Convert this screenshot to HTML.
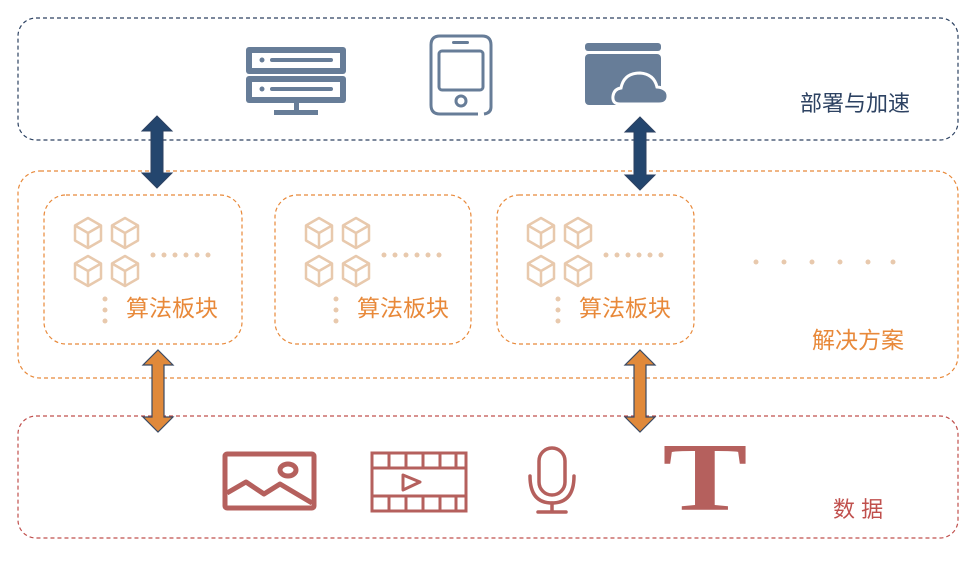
<!DOCTYPE html>
<html><head><meta charset="utf-8"><style>
html,body{margin:0;padding:0;background:#fff;}
svg text{font-family:"Liberation Sans","Noto Sans CJK SC",sans-serif;}
</style></head><body>
<svg width="975" height="563" viewBox="0 0 975 563" xmlns="http://www.w3.org/2000/svg">
<defs>
<g id="cube" fill="none" stroke="#e8c9ad" stroke-width="2.5" stroke-linejoin="round">
<path d="M0,-15 L13,-7.5 L13,7.5 L0,15 L-13,7.5 L-13,-7.5 Z"/>
<path d="M-13,-7.5 L0,0 L13,-7.5 M0,0 L0,15"/>
</g>
<g id="algo">
<use href="#cube" x="44" y="38"/><use href="#cube" x="81" y="38"/>
<use href="#cube" x="44" y="76"/><use href="#cube" x="81" y="76"/>
<g fill="#e8c9ad"><circle cx="109" cy="60" r="2.5"/><circle cx="120" cy="60" r="2.5"/><circle cx="131" cy="60" r="2.5"/><circle cx="142" cy="60" r="2.5"/><circle cx="153" cy="60" r="2.5"/><circle cx="164" cy="60" r="2.5"/>
<circle cx="61" cy="104" r="2.5"/><circle cx="61" cy="115" r="2.5"/><circle cx="61" cy="126" r="2.5"/></g>
<text x="82" y="121" font-size="23" fill="#e8893a">算法板块</text>
</g>
</defs>
<rect x="18" y="18" width="940" height="122" rx="18" fill="none" stroke="#2d4262" stroke-width="1.2" stroke-dasharray="4,3"/>
<rect x="18" y="171" width="940" height="207" rx="22" fill="none" stroke="#e8893a" stroke-width="1.2" stroke-dasharray="4,3"/>
<rect x="18" y="416" width="940" height="122" rx="18" fill="none" stroke="#c0504d" stroke-width="1.2" stroke-dasharray="4,3"/>
<g fill="none" stroke="#e8893a" stroke-width="1.2" stroke-dasharray="4,3">
<rect x="44" y="195" width="198" height="149" rx="22"/>
<rect x="275" y="195" width="196" height="149" rx="22"/>
<rect x="497" y="195" width="197" height="149" rx="22"/>
</g>
<use href="#algo" x="44" y="195"/><use href="#algo" x="275" y="195"/><use href="#algo" x="497" y="195"/>
<g fill="#e8c9ad"><circle cx="756" cy="262" r="2.5"/><circle cx="784" cy="262" r="2.5"/><circle cx="812" cy="262" r="2.5"/><circle cx="840" cy="262" r="2.5"/><circle cx="868" cy="262" r="2.5"/><circle cx="893" cy="262" r="2.5"/></g>
<!-- server -->
<g fill="#677d98">
<rect x="246" y="47" width="100" height="27" rx="3"/>
<rect x="246" y="76" width="100" height="27" rx="3"/>
<rect x="294" y="103" width="5" height="10"/>
<rect x="274" y="110" width="44" height="5"/>
</g>
<g fill="#fff"><rect x="252" y="53" width="88" height="15"/><rect x="252" y="82" width="88" height="15"/></g>
<g fill="#677d98"><circle cx="262" cy="60" r="2.5"/><rect x="270" y="58" width="63" height="4" rx="2"/><circle cx="262" cy="89" r="2.5"/><rect x="270" y="87" width="63" height="4" rx="2"/></g>
<!-- phone -->
<g fill="none" stroke="#677d98" stroke-width="3">
<path d="M478,114 L440,114 Q431,114 431,105 L431,45 Q431,36 440,36 L482,36 Q491,36 491,45 L491,107 Q491,113 484,114"/>
<rect x="439" y="51" width="44" height="39" rx="3"/>
<circle cx="461" cy="101" r="5"/>
</g>
<rect x="452" y="41" width="17" height="3" rx="1.5" fill="#677d98"/>
<!-- cloud window -->
<rect x="585" y="43" width="76" height="8" rx="3" fill="#677d98"/>
<rect x="585" y="54" width="76" height="51" rx="4" fill="#677d98"/>
<path d="M620,104 Q612,104 613,96 Q614,89 621,88 Q624,73 640,73 Q654,74 657,87 Q668,88 668,96 Q668,104 659,104 Z" fill="#677d98" stroke="#fff" stroke-width="3"/>
<text x="800" y="111" font-size="22" fill="#2d4262">部署与加速</text>
<text x="812" y="348" font-size="23" fill="#e8893a">解决方案</text>
<text x="833" y="517" font-size="22" fill="#c0504d">数 据</text>
<!-- arrows -->
<g fill="#24466e" stroke="#2d4262" stroke-width="1">
<path d="M157,116 L172,131 L163,131 L163,173 L172,173 L157,188 L142,173 L151,173 L151,131 L142,131 Z"/>
<path d="M640,117 L655,132 L646,132 L646,175 L655,175 L640,190 L625,175 L634,175 L634,132 L625,132 Z"/>
</g>
<g fill="#e0893a" stroke="#3a4a63" stroke-width="1.2">
<path d="M158,350 L173,365 L164,365 L164,417 L173,417 L158,432 L143,417 L152,417 L152,365 L143,365 Z"/>
<path d="M640,350 L655,365 L646,365 L646,417 L655,417 L640,432 L625,417 L634,417 L634,365 L625,365 Z"/>
</g>
<!-- image -->
<g fill="none" stroke="#b5605d" stroke-width="5" stroke-linejoin="round">
<rect x="225" y="454" width="89" height="54" rx="2"/>
<path d="M227,493 L246,482 L264,494 L280,484 L312,503"/>
</g>
<ellipse cx="288" cy="470" rx="8" ry="6" fill="none" stroke="#b5605d" stroke-width="5"/>
<!-- film -->
<g fill="none" stroke="#b5605d" stroke-width="3">
<rect x="372" y="453" width="94" height="58"/>
<path d="M372,468 L466,468 M372,496 L466,496 M389,453 V468 M406,453 V468 M423,453 V468 M440,453 V468 M456,453 V468 M389,496 V511 M406,496 V511 M423,496 V511 M440,496 V511 M456,496 V511"/>
<path d="M403,475 L420,482 L403,490 Z" stroke-linejoin="round"/>
</g>
<!-- mic -->
<g fill="none" stroke="#b5605d" stroke-width="3.5" stroke-linecap="round">
<rect x="539" y="448" width="26" height="47" rx="13"/>
<path d="M530,476 Q530,503 552,503 Q574,503 574,476"/>
<path d="M552,503 V512 M538,512 H566"/>
</g>
<text x="0" y="0" transform="translate(705,510) scale(1.3,1)" font-size="98" font-weight="bold" fill="#b5605d" text-anchor="middle" style="font-family:'Liberation Serif',serif">T</text>
</svg>
</body></html>
